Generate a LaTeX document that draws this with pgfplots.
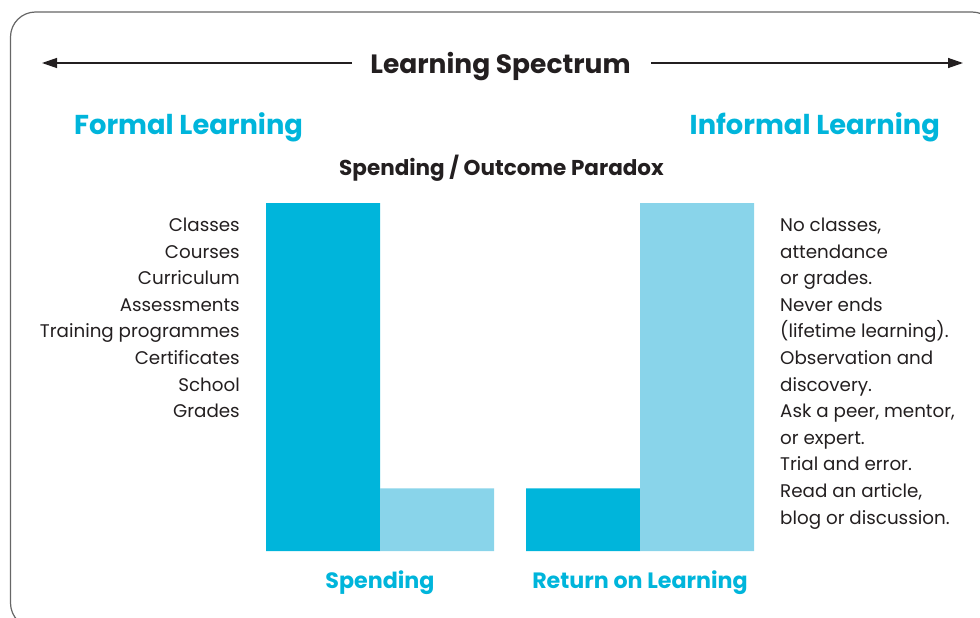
\documentclass[border=0pt]{standalone}
\usepackage{pgfplots}
\pgfplotsset{compat=1.18}
\usepackage{fontspec}
\setmainfont{Poppins}
\usetikzlibrary{arrows.meta}
\definecolor{darkcyan}{HTML}{00B5DB}
\definecolor{lightcyan}{HTML}{89D4EA}
\definecolor{ink}{HTML}{231F20}
\begin{document}
\begin{tikzpicture}
\begin{scope}[x=1pt,y=-1pt]
\useasboundingbox (0,0) rectangle (980,618);
% frame
\draw[gray!80!black,line width=1.2pt,rounded corners=25pt] (10.5,12) rectangle (997,628);
% arrows
\draw[ink,line width=1.3pt,-{Triangle[length=15pt,width=10pt]}] (352,63) -- (42,63);
\draw[ink,line width=1.3pt,-{Triangle[length=15pt,width=10pt]}] (651,63) -- (963,63);
\node[anchor=base,ink,font=\fontsize{26.5}{30}\selectfont\bfseries,inner sep=0pt] at (500.5,74) {Learning Spectrum};
\node[anchor=base west,darkcyan,font=\fontsize{27.3}{32}\selectfont\bfseries,inner sep=0pt] at (74,134) {Formal Learning};
\node[anchor=base east,darkcyan,font=\fontsize{27.3}{32}\selectfont\bfseries,inner sep=0pt] at (940,134) {Informal Learning};
\node[anchor=base,ink,font=\fontsize{21.5}{24}\selectfont\bfseries,inner sep=0pt] at (501.5,175) {Spending / Outcome Paradox};
% left list
\foreach \t [count=\i] in {Classes,Courses,Curriculum,Assessments,Training programmes,Certificates,School,Grades}{
  \node[anchor=base east,ink,font=\fontsize{18.3}{21}\selectfont,inner sep=0pt] at (240,{231.5+26.6*(\i-1)}) {\t};
}
% right list
\foreach \t [count=\i] in {No classes{,},attendance,or grades.,Never ends,(lifetime learning).,Observation and,discovery.,Ask a peer{,} mentor{,},or expert.,Trial and error.,Read an article{,},blog or discussion.}{
  \node[anchor=base west,ink,font=\fontsize{18.3}{21}\selectfont,inner sep=0pt] at (780,{231.5+26.6*(\i-1)}) {\t};
}
\end{scope}
\begin{axis}[
  at={(266pt,-551pt)}, anchor=south west,
  width=488pt, height=348pt, scale only axis,
  xmin=-0.438462, xmax=1.438462, ymin=0, ymax=100,
  ybar=0pt, bar width=114pt,
  axis line style={draw=none},
  major tick length=0pt, ymajorticks=false,
  xtick={0,1}, xticklabels={Spending,Return on Learning},
  xticklabel style={anchor=base,yshift=-37pt,inner sep=0pt,text=darkcyan,font=\fontsize{22.2}{25}\selectfont\bfseries},
  clip=false,
]
\addplot[fill=darkcyan,draw=none] coordinates {(0,100) (1,18)};
\addplot[fill=lightcyan,draw=none] coordinates {(0,18) (1,100)};
\end{axis}
\end{tikzpicture}
\end{document}
